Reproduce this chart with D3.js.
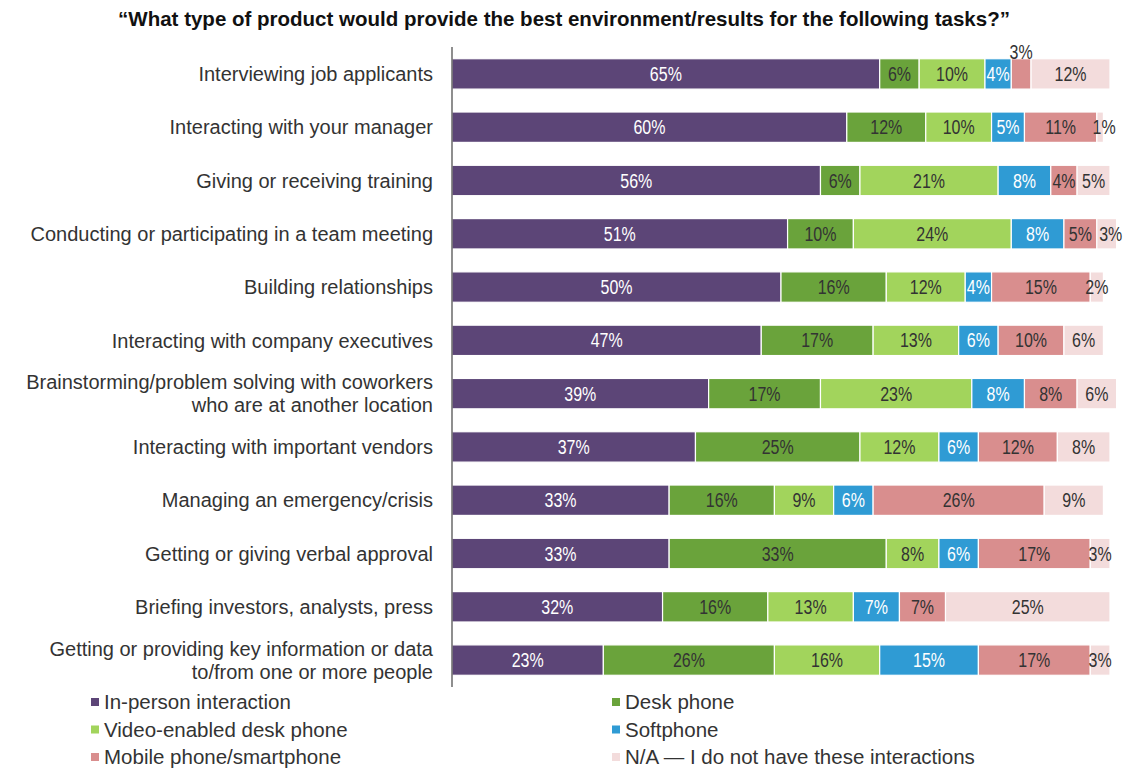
<!DOCTYPE html>
<html>
<head>
<meta charset="utf-8">
<script src="https://cdn.jsdelivr.net/npm/d3@7"></script>
<style>
  body { margin: 0; background: #fff; }
  svg text { font-family: "Liberation Sans", Arial, sans-serif; }
</style>
</head>
<body>
<div id="chart"></div>
<script>
const tasks = [
  ["Interviewing job applicants"],
  ["Interacting with your manager"],
  ["Giving or receiving training"],
  ["Conducting or participating in a team meeting"],
  ["Building relationships"],
  ["Interacting with company executives"],
  ["Brainstorming/problem solving with coworkers", "who are at another location"],
  ["Interacting with important vendors"],
  ["Managing an emergency/crisis"],
  ["Getting or giving verbal approval"],
  ["Briefing investors, analysts, press"],
  ["Getting or providing key information or data", "to/from one or more people"]
]

const seriesNames = ["In-person interaction", "Desk phone", "Video-enabled desk phone",
  "Softphone", "Mobile phone/smartphone", "N/A \u2014 I do not have these interactions"]

const inPerson = [65, 60, 56, 51, 50, 47, 39, 37, 33, 33, 32, 23]
const deskPhone = [6, 12, 6, 10, 16, 17, 17, 25, 16, 33, 16, 26]
const videoPhone = [10, 10, 21, 24, 12, 13, 23, 12, 9, 8, 13, 16]
const softphone = [4, 5, 8, 8, 4, 6, 8, 6, 6, 6, 7, 15]
const mobile = [3, 11, 4, 5, 15, 10, 8, 12, 26, 17, 7, 17]
const notApplicable = [12, 1, 5, 3, 2, 6, 6, 8, 9, 3, 25, 3]

const colors = ["#5c4577", "#6aa33b", "#a2d45c", "#2f9bd4", "#d98e8e", "#f3dcdc"]
const labelColors = ["#fff", "#333", "#333", "#fff", "#333", "#333"]

const series = [inPerson, deskPhone, videoPhone, softphone, mobile, notApplicable]

const W = 1136, H = 772
const margin = {top: 47, left: 452, right: 26, bottom: 85}

const svg = d3.select("#chart").append("svg")
  .attr("width", W).attr("height", H)

svg.append("text")
  .attr("x", 564).attr("y", 26)
  .attr("text-anchor", "middle")
  .style("font-weight", "bold").style("font-size", "20.5px").style("fill", "#111")
  .text("\u201cWhat type of product would provide the best environment/results for the following tasks?\u201d")

const x = d3.scaleLinear().domain([0, 100]).range([margin.left, margin.left + 658])
const y = d3.scaleBand().domain(d3.range(tasks.length))
  .range([margin.top, H - margin.bottom]).paddingInner(0.43).paddingOuter(0.22)

// stacked rows
const rows = tasks.map((t, i) => {
  let acc = 0
  return series.map((s, k) => {
    const seg = {row: i, key: k, v: s[i], x0: acc, x1: acc + s[i]}
    acc += s[i]
    return seg
  })
})

const g = svg.append("g")
rows.forEach(segs => {
  const rg = g.append("g")
  rg.selectAll("rect").data(segs).join("rect")
    .attr("x", d => x(d.x0))
    .attr("y", d => y(d.row))
    .attr("width", d => x(d.x1) - x(d.x0))
    .attr("height", y.bandwidth())
    .attr("fill", d => colors[d.key])
    .attr("stroke", "#fff").attr("stroke-width", 1.2)
  // labels are a narrow face in the original, so squeeze them a bit
  rg.selectAll("text").data(segs).join("text")
    .attr("transform", d => {
      const cx = (x(d.x0) + x(d.x1)) / 2 + ((d.row === 1 || d.row === 3) && d.key === 5 ? 4 : 0)
      const cy = y(d.row) + y.bandwidth() / 2 + ((d.row === 0 && d.key === 4) ? -22 : 0)
      return `translate(${cx},${cy}) scale(0.82,1)`
    })
    .attr("dy", "0.36em")
    .attr("text-anchor", "middle")
    .style("font-size", "19.5px")
    .style("fill", d => (d.row === 0 && d.key === 4) ? "#333" : labelColors[d.key])
    .text(d => d.v + "%")
})

// axis line
const yAxis = svg.append("g")
  .attr("transform", `translate(${margin.left},0)`)
  .call(d3.axisLeft(y).tickSize(0).tickFormat(""))
yAxis.select(".domain").attr("stroke", "#444").attr("stroke-width", 1.2)
  .attr("d", `M0,${margin.top}V${H - margin.bottom}`)

// category labels
const cat = svg.append("g")
tasks.forEach((lines, i) => {
  const cy = y(i) + y.bandwidth() / 2
  const t = cat.append("text")
    .attr("text-anchor", "end")
    .style("font-size", "20px").style("fill", "#333")
  lines.forEach((ln, j) => {
    t.append("tspan").attr("x", 433)
      .attr("y", cy + (j - (lines.length - 1) / 2) * 23)
      .attr("dy", "0.36em")
      .text(ln)
  })
})

// legend
const legend = svg.append("g")
seriesNames.forEach((name, k) => {
  const col = k % 2, row = Math.floor(k / 2)
  const lx = col === 0 ? 91 : 612
  const ly = 702 + row * 27.5
  legend.append("rect")
    .attr("x", lx).attr("y", ly - 4).attr("width", 8).attr("height", 8)
    .attr("fill", colors[k])
  legend.append("text")
    .attr("x", lx + 13).attr("y", ly).attr("dy", "0.36em")
    .style("font-size", "20.5px").style("fill", "#333")
    .text(name)
})
</script>
</body>
</html>
